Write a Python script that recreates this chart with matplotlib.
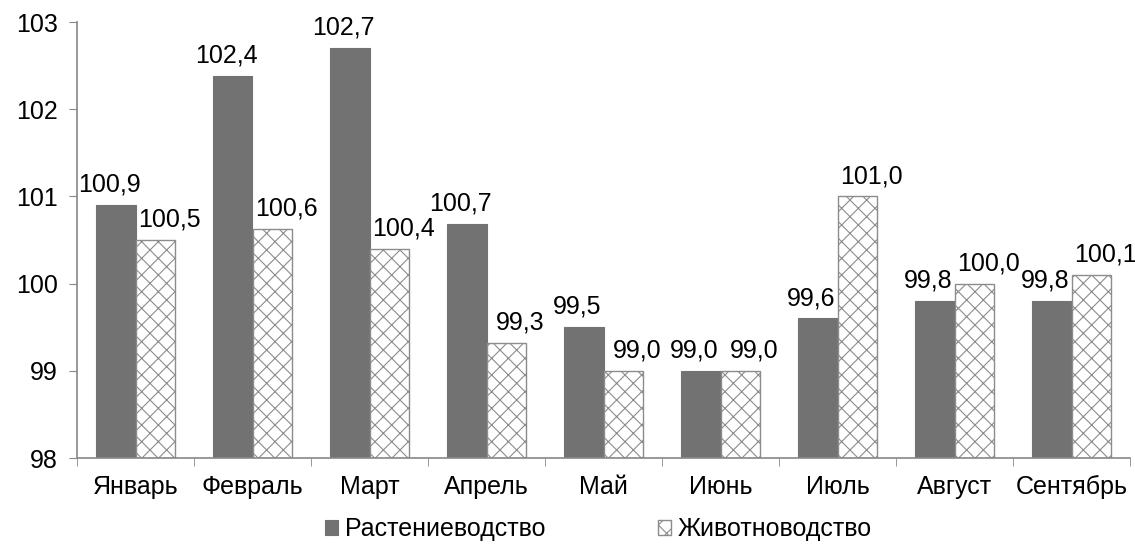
import numpy as np
import matplotlib.pyplot as plt
import matplotlib as mpl

plt.rcParams['font.family'] = ['Liberation Sans', 'DejaVu Sans']
mpl.rcParams['hatch.linewidth'] = 0.8
mpl.rcParams['hatch.color'] = '#a8a8a8'

months = ['Январь', 'Февраль', 'Март', 'Апрель', 'Май', 'Июнь', 'Июль', 'Август', 'Сентябрь']
crops = [100.9, 102.38, 102.7, 100.68, 99.5, 99.0, 99.6, 99.8, 99.8]
livestock = [100.5, 100.63, 100.4, 99.32, 99.0, 99.0, 101.0, 100.0, 100.1]
series_names = ['Растениеводство', 'Животноводство']

fs = 18

fig = plt.figure(figsize=(11.35, 5.53), dpi=100)
ax = fig.add_axes([77 / 1135, 1 - 458 / 553, (1130 - 77) / 1135, (458 - 22) / 553])

x = np.arange(len(months))
w = 0.34
b1 = ax.bar(x - w / 2, np.array(crops) - 98, w, bottom=98, color='#727272',
            edgecolor='#727272', linewidth=0.8, label=series_names[0])
b2 = ax.bar(x + w / 2, np.array(livestock) - 98, w, bottom=98, color='white',
            edgecolor='#8c8c8c', hatch='xx', linewidth=1.0, label=series_names[1])

# labels sit a little off-centre, like in the source chart
for bars, vals, dx in ((b1, crops, -4.5), (b2, livestock, 10)):
    for rect, v in zip(bars, vals):
        ax.annotate(f'{v:.1f}'.replace('.', ','),
                    (rect.get_x() + rect.get_width() / 2, v),
                    xytext=(dx, 6), textcoords='offset points',
                    ha='center', va='bottom', fontsize=fs)

ax.set_ylim(98, 103)
ax.set_xlim(-0.5, len(months) - 0.5)
ax.set_yticks([98, 99, 100, 101, 102, 103])
ax.set_xticks(x)
ax.set_xticklabels(months, fontsize=fs)
ax.set_xticks(np.arange(-0.5, len(months)), minor=True)
ax.tick_params(axis='x', which='major', length=0, pad=12)
ax.tick_params(axis='x', which='minor', length=6, color='#888888', direction='out')
ax.tick_params(axis='y', length=6, color='#888888', labelsize=fs, pad=8)

for s in ('top', 'right'):
    ax.spines[s].set_visible(False)
for s in ('left', 'bottom'):
    ax.spines[s].set_color('#888888')
    ax.spines[s].set_linewidth(1.2)

fig.legend(handles=[b1, b2], loc='center', bbox_to_anchor=(0.527, 0.043), ncol=2,
           frameon=False, fontsize=fs, handlelength=0.55, handleheight=0.55,
           handletextpad=0.25, columnspacing=4.5)

fig.savefig('out.png', dpi=100)
